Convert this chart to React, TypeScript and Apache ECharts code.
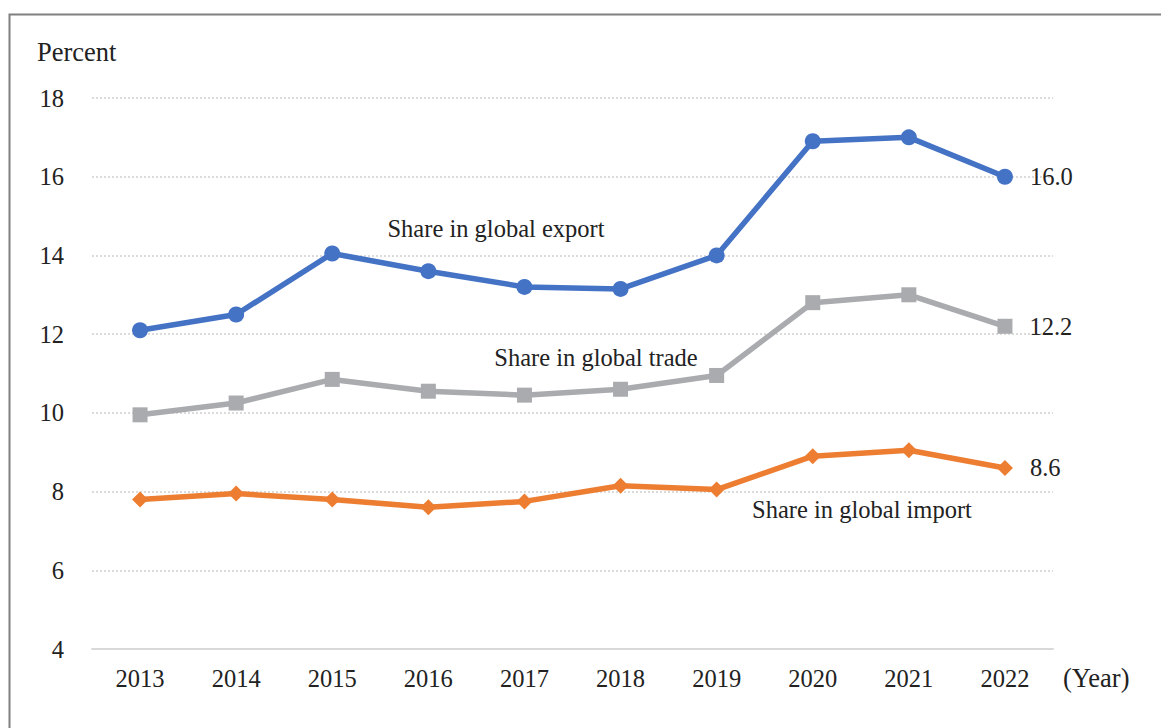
import React, { useEffect, useRef } from "react";
import * as echarts from "echarts";

const years = ["2013", "2014", "2015", "2016", "2017", "2018", "2019", "2020", "2021", "2022"];
const exportShare = [12.1, 12.5, 14.05, 13.6, 13.2, 13.15, 14.0, 16.9, 17.0, 16.0];
const tradeShare = [9.95, 10.25, 10.85, 10.55, 10.45, 10.6, 10.95, 12.8, 13.0, 12.2];
const importShare = [7.8, 7.95, 7.8, 7.6, 7.75, 8.15, 8.05, 8.9, 9.05, 8.6];
const seriesNames = ["Share in global export", "Share in global trade", "Share in global import"];
const yTicks = [4, 6, 8, 10, 12, 14, 16, 18];

const FONT = "'Liberation Serif', 'Times New Roman', serif";
const TEXT = "#222222";

export default function App() {
  const ref = useRef<HTMLDivElement>(null);
  useEffect(() => {
    if (!ref.current) return;
    const chart = echarts.init(ref.current, null, { renderer: "svg" });
    const lastLabel = (data: number[]) =>
      data.map((v, i) =>
        i === data.length - 1
          ? {
              value: v,
              label: {
                show: true,
                position: "right",
                distance: 17,
                formatter: (p: any) => Number(p.value).toFixed(1),
                fontFamily: FONT,
                fontSize: 24.5,
                color: TEXT,
              },
            }
          : v
      );
    const mk = (name: string, data: number[], color: string, symbol: string, size: number) => ({
      name,
      type: "line",
      data: lastLabel(data),
      symbol,
      symbolSize: size,
      lineStyle: { color, width: 5.5 },
      itemStyle: { color },
      z: 3,
    });
    chart.setOption({
      animation: false,
      backgroundColor: "#ffffff",
      textStyle: { fontFamily: FONT },
      grid: { left: 92, right: 108, top: 98, bottom: 79 },
      xAxis: {
        type: "category",
        data: years,
        boundaryGap: true,
        axisLine: { show: true, lineStyle: { color: "#d9d9d9", width: 2 } },
        axisTick: { show: false },
        axisLabel: { fontFamily: FONT, fontSize: 24.5, color: TEXT, margin: 17 },
      },
      yAxis: {
        type: "value",
        min: yTicks[0],
        max: yTicks[yTicks.length - 1],
        interval: 2,
        axisLine: { show: false },
        axisTick: { show: false },
        axisLabel: { fontFamily: FONT, fontSize: 24.5, color: TEXT, margin: 28 },
        splitLine: { lineStyle: { color: "#cfcfcf", type: [2, 2], width: 1.5 } },
      },
      series: [
        mk(seriesNames[0], exportShare, "#4472C4", "circle", 16),
        mk(seriesNames[1], tradeShare, "#A9ABAF", "rect", 15),
        mk(seriesNames[2], importShare, "#ED7D31", "diamond", 16),
      ],
      graphic: [
        {
          type: "rect",
          shape: { x: 9.5, y: 14.5, width: 1400, height: 1000 },
          style: { fill: "none", stroke: "#808080", lineWidth: 2 },
          silent: true,
        },
        {
          type: "text",
          x: 37,
          y: 52,
          style: { text: "Percent", font: `26.5px ${FONT}`, fill: TEXT, verticalAlign: "middle" },
        },
        {
          type: "text",
          x: 1063,
          y: 678,
          style: { text: "(Year)", font: `26.5px ${FONT}`, fill: TEXT, verticalAlign: "middle" },
        },
        {
          type: "text",
          x: 496,
          y: 228,
          style: { text: seriesNames[0], font: `24.5px ${FONT}`, fill: TEXT, align: "center", verticalAlign: "middle" },
        },
        {
          type: "text",
          x: 596,
          y: 357,
          style: { text: seriesNames[1], font: `24.5px ${FONT}`, fill: TEXT, align: "center", verticalAlign: "middle" },
        },
        {
          type: "text",
          x: 862,
          y: 509,
          style: { text: seriesNames[2], font: `24.5px ${FONT}`, fill: TEXT, align: "center", verticalAlign: "middle" },
        },
      ],
    });
    return () => chart.dispose();
  }, []);
  return (
    <div
      ref={ref}
      style={{ position: "absolute", left: 0, top: 0, width: 1161, height: 728 }}
    />
  );
}
